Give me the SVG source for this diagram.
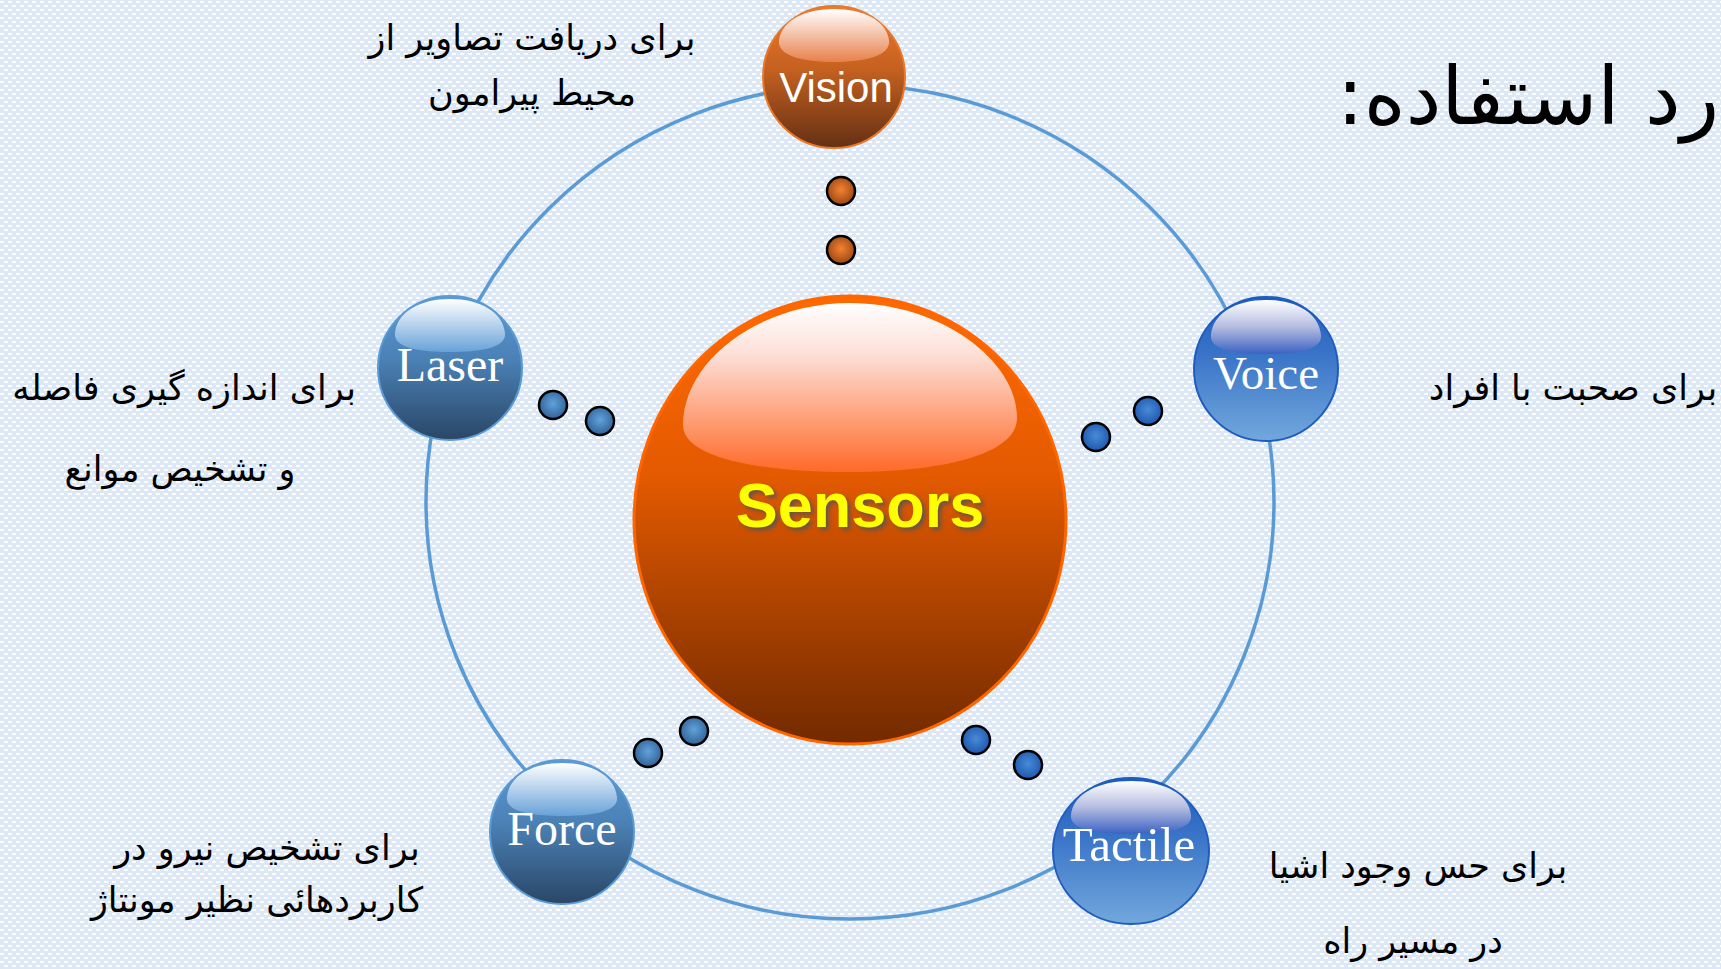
<svg xmlns="http://www.w3.org/2000/svg" width="1721" height="969" viewBox="0 0 1721 969">
<defs>
<pattern id="bgp" width="8" height="8" patternUnits="userSpaceOnUse">
<rect width="8" height="8" fill="#dce8f5"/>
<rect x="0" y="1" width="4" height="2" fill="#ffffff"/>
<rect x="4" y="5" width="4" height="2" fill="#ffffff"/>
</pattern>
<linearGradient id="gBig" x1="0" y1="0" x2="0" y2="1">
<stop offset="0" stop-color="#ff6a00"/>
<stop offset="0.4" stop-color="#e45a00"/>
<stop offset="1" stop-color="#722a00"/>
</linearGradient>
<linearGradient id="gBigHi" x1="0" y1="0" x2="0" y2="1">
<stop offset="0" stop-color="#ffffff"/>
<stop offset="0.3" stop-color="#fde0d8"/>
<stop offset="1" stop-color="#ff6a28"/>
</linearGradient>
<linearGradient id="gOr" x1="0" y1="0" x2="0" y2="1">
<stop offset="0" stop-color="#ef7a2c"/>
<stop offset="0.45" stop-color="#c46020"/>
<stop offset="1" stop-color="#643014"/>
</linearGradient>
<linearGradient id="gOrHi" x1="0" y1="0" x2="0" y2="1">
<stop offset="0" stop-color="#ffffff"/>
<stop offset="1" stop-color="#e8804a"/>
</linearGradient>
<linearGradient id="gSteel" x1="0" y1="0" x2="0" y2="1">
<stop offset="0" stop-color="#5b9bd5"/>
<stop offset="0.45" stop-color="#4a80b4"/>
<stop offset="1" stop-color="#2a4666"/>
</linearGradient>
<linearGradient id="gSteelHi" x1="0" y1="0" x2="0" y2="1">
<stop offset="0" stop-color="#ffffff"/>
<stop offset="1" stop-color="#68a2d8"/>
</linearGradient>
<linearGradient id="gBlue" x1="0" y1="0" x2="0" y2="1">
<stop offset="0" stop-color="#1e5cc0"/>
<stop offset="0.4" stop-color="#3a74c8"/>
<stop offset="1" stop-color="#72a8dc"/>
</linearGradient>
<linearGradient id="gBlueHi" x1="0" y1="0" x2="0" y2="1">
<stop offset="0" stop-color="#ffffff"/>
<stop offset="0.5" stop-color="#b4bce0"/>
<stop offset="1" stop-color="#3a62c4"/>
</linearGradient>
<radialGradient id="dSteel" cx="0.5" cy="0.45" r="0.55">
<stop offset="0" stop-color="#62a2dc"/>
<stop offset="1" stop-color="#2f6296"/>
</radialGradient>
<radialGradient id="dBlue" cx="0.5" cy="0.45" r="0.55">
<stop offset="0" stop-color="#4a8ad6"/>
<stop offset="1" stop-color="#1c58b0"/>
</radialGradient>
<radialGradient id="dOr" cx="0.5" cy="0.45" r="0.55">
<stop offset="0" stop-color="#f48232"/>
<stop offset="1" stop-color="#9a4612"/>
</radialGradient>
<filter id="blur" x="-10%" y="-20%" width="120%" height="140%">
<feGaussianBlur stdDeviation="2"/>
</filter>
</defs>
<style>
.fa{font-family:"DejaVu Sans",sans-serif;font-size:35px;fill:#000;}
.title{font-family:"DejaVu Sans",sans-serif;font-size:80px;fill:#000;}
.ser{font-family:"Liberation Serif",serif;fill:#fff;}
.ring{fill:none;stroke:#5b9bd5;stroke-width:3.5;}
.dot{stroke:#000;stroke-width:2.5;}
</style>
<rect width="1721" height="969" fill="url(#bgp)"/>

<g id="connectors">
<ellipse class="ring" cx="850" cy="502" rx="424" ry="417"/>
<circle class="dot" cx="841" cy="191" r="14" fill="url(#dOr)"/>
<circle class="dot" cx="841" cy="250" r="14" fill="url(#dOr)"/>
<circle class="dot" cx="553" cy="405" r="14" fill="url(#dSteel)"/>
<circle class="dot" cx="600" cy="421" r="14" fill="url(#dSteel)"/>
<circle class="dot" cx="1096" cy="437" r="14" fill="url(#dBlue)"/>
<circle class="dot" cx="1148" cy="411" r="14" fill="url(#dBlue)"/>
<circle class="dot" cx="648" cy="753" r="14" fill="url(#dSteel)"/>
<circle class="dot" cx="694" cy="731" r="14" fill="url(#dSteel)"/>
<circle class="dot" cx="976" cy="740" r="14" fill="url(#dBlue)"/>
<circle class="dot" cx="1028" cy="765" r="14" fill="url(#dBlue)"/>
</g>

<g id="sensors">
<ellipse cx="850" cy="520" rx="216" ry="224" fill="url(#gBig)" stroke="#ff6600" stroke-width="3"/>
<path d="M683,425 C683,360 760,303 850,303 C940,303 1017,360 1017,418 C1017,455 940,472 850,472 C760,472 683,458 683,425 Z" fill="url(#gBigHi)"/>
<text x="863" y="530" text-anchor="middle" font-family="Liberation Sans, Arial, sans-serif" font-weight="bold" font-size="63" fill="#555" opacity="0.85" filter="url(#blur)">Sensors</text>
<text x="860" y="527" text-anchor="middle" font-family="Liberation Sans, Arial, sans-serif" font-weight="bold" font-size="63" fill="#ffff00">Sensors</text>
</g>

<g id="vision">
<circle cx="834" cy="77" r="71" fill="url(#gOr)" stroke="#e8782a" stroke-width="2"/>
<path d="M779,40 C782,20 805,9 834,9 C863,9 886,20 889,40 C891,56 865,62 834,62 C803,62 777,56 779,40 Z" fill="url(#gOrHi)"/>
<text x="836" y="102" text-anchor="middle" font-family="Liberation Sans, Arial, sans-serif" font-size="42" fill="#fff">Vision</text>
</g>

<g id="laser">
<circle cx="450" cy="368" r="72" fill="url(#gSteel)" stroke="#5b9bd5" stroke-width="2"/>
<path d="M395,333 C397,312 420,299 450,299 C480,299 503,312 505,333 C507,348 480,352 450,352 C420,352 393,348 395,333 Z" fill="url(#gSteelHi)"/>
<text x="450" y="381" text-anchor="middle" class="ser" font-size="48">Laser</text>
</g>

<g id="voice">
<circle cx="1266" cy="369" r="72" fill="url(#gBlue)" stroke="#1e5cc0" stroke-width="2"/>
<path d="M1211,335 C1213,313 1236,300 1266,300 C1296,300 1319,313 1321,335 C1323,350 1296,354 1266,354 C1236,354 1209,350 1211,335 Z" fill="url(#gBlueHi)"/>
<text x="1266" y="389" text-anchor="middle" class="ser" font-size="47">Voice</text>
</g>

<g id="force">
<circle cx="562" cy="832" r="72" fill="url(#gSteel)" stroke="#5b9bd5" stroke-width="2"/>
<path d="M507,797 C509,776 532,763 562,763 C592,763 615,776 617,797 C619,812 592,816 562,816 C532,816 505,812 507,797 Z" fill="url(#gSteelHi)"/>
<text x="562" y="845" text-anchor="middle" class="ser" font-size="48">Force</text>
</g>

<g id="tactile">
<ellipse cx="1131" cy="851" rx="78" ry="73" fill="url(#gBlue)" stroke="#1e5cc0" stroke-width="2"/>
<path d="M1071,815 C1073,794 1098,781 1131,781 C1164,781 1189,794 1191,815 C1193,830 1164,834 1131,834 C1098,834 1069,830 1071,815 Z" fill="url(#gBlueHi)"/>
<text x="1129" y="861" text-anchor="middle" class="ser" font-size="49">Tactile</text>
</g>

<g id="texts">
<text class="fa" direction="rtl" x="532" y="50" text-anchor="middle">برای دریافت تصاویر از</text>
<text class="fa" direction="rtl" x="532" y="105" text-anchor="middle">محیط پیرامون</text>
<text class="fa" direction="rtl" x="184" y="400" text-anchor="middle">برای اندازه گیری فاصله</text>
<text class="fa" direction="rtl" x="180" y="481" text-anchor="middle">و تشخیص موانع</text>
<text class="fa" direction="rtl" x="1573" y="400" text-anchor="middle">برای صحبت با افراد</text>
<text class="fa" direction="rtl" x="267" y="860" text-anchor="middle">برای تشخیص نیرو در</text>
<text class="fa" direction="rtl" x="257" y="912" text-anchor="middle">کاربردهائی نظیر مونتاژ</text>
<text class="fa" direction="rtl" x="1418" y="878" text-anchor="middle">برای حس وجود اشیا</text>
<text class="fa" direction="rtl" x="1413" y="953" text-anchor="middle">در مسیر راه</text>
<text class="title" direction="rtl" x="1528" y="124" text-anchor="middle">رد استفاده:</text>
</g>
</svg>
